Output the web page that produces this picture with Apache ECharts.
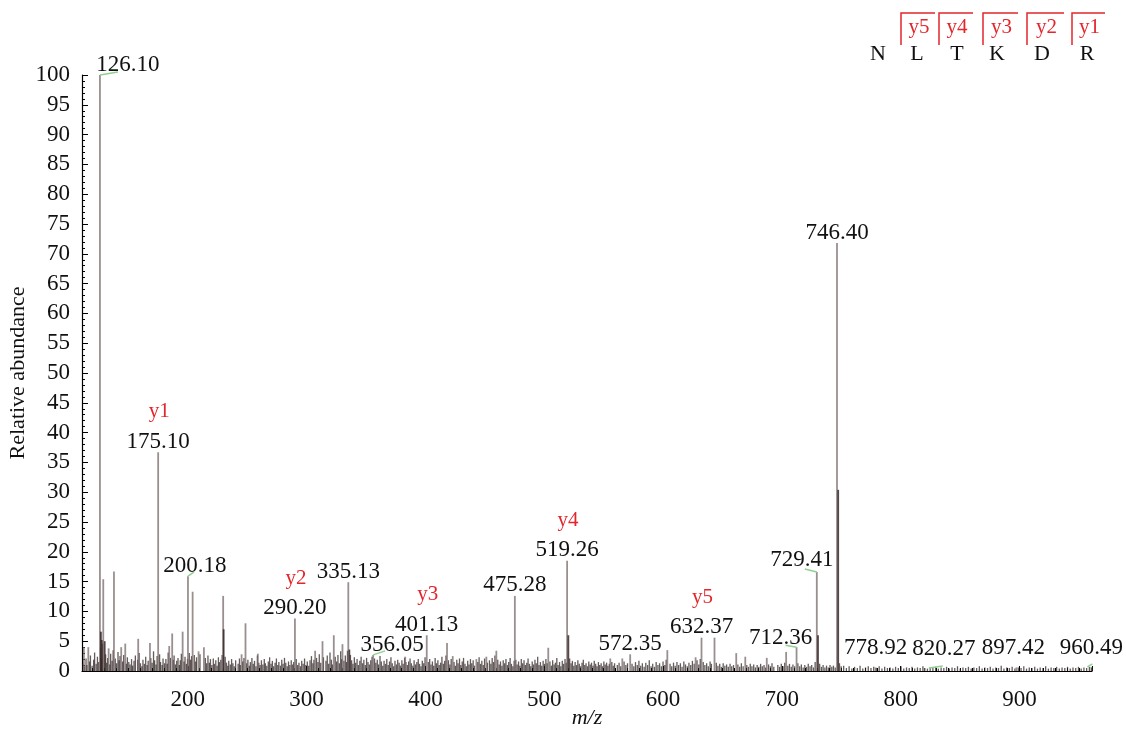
<!DOCTYPE html>
<html>
<head>
<meta charset="utf-8">
<script src="https://cdn.jsdelivr.net/npm/echarts@6/dist/echarts.min.js"></script>
<style>
  html, body { margin: 0; padding: 0; background: #fff; }
  #chart { width: 1126px; height: 732px; }
</style>
</head>
<body>
<div id="chart"></div>
<script>
// MS/MS spectrum of the peptide NLTKDR (relative abundance vs m/z)

// Annotated fragment peaks
const labeledMz = [126.10, 175.10, 200.18, 290.20, 335.13, 356.05, 401.13, 475.28, 519.26,
                   572.35, 632.37, 712.36, 729.41, 746.40, 778.92, 820.27, 897.42, 960.49];
const labeledAbundance = [100, 36.7, 15.9, 8.8, 14.9, 2.7, 6.0, 12.6, 18.5,
                          2.8, 5.6, 4.0, 16.6, 71.8, 0.6, 0.5, 0.6, 0.7];

// y-ion assignments shown in red above their peaks
const ionNames = ['y1', 'y2', 'y3', 'y4', 'y5'];
const ionMz = [175.10, 290.20, 401.13, 519.26, 632.37];

// Peptide sequence for the header
const sequence = ['N', 'L', 'T', 'K', 'D', 'R'];
const sequenceIons = ['y5', 'y4', 'y3', 'y2', 'y1'];

// Other visible, unlabelled peaks [m/z, abundance]
const otherPeaks = [
  [112.6, 4.0], [116.3, 4.0], [128.9, 15.4], [133.4, 3.8], [137.9, 16.7], [144.0, 4.0],
  [147.4, 4.6], [158.3, 5.4], [168.2, 4.7], [184.4, 4.2], [186.9, 6.3], [195.7, 6.6],
  [204.1, 13.3], [209.1, 3.3], [213.6, 4.0], [229.8, 12.6], [245.3, 2.8], [248.6, 8.0],
  [259.0, 2.9], [307.2, 3.4], [313.4, 5.0], [322.9, 6.0], [330.2, 4.5], [383.0, 2.4],
  [418.2, 4.7], [423.0, 2.5], [442.9, 2.0], [451.3, 2.4], [459.7, 3.4], [503.4, 3.9],
  [555.6, 2.1], [565.7, 2.1], [603.6, 3.5], [627.4, 2.3], [643.3, 5.6], [661.6, 3.0],
  [669.2, 2.4], [687.3, 2.2], [703.6, 3.2]
];

// Overlapping isotope peaks, drawn darker
const overlapPeaks = [
  [126.9, 6.6], [127.6, 5.2], [130.1, 5.0], [230.2, 7.0], [336.0, 3.6],
  [520.3, 6.0], [730.4, 6.0], [747.4, 30.4]
];

// Baseline noise peaks [m/z, abundance]
const noisePeaks = [
  [111.8,1.2],[113.1,0.8],[114.4,2.1],[115.2,1.0],[117.3,1.6],[118.1,2.6],[119.5,0.9],[120.8,1.9],
  [121.6,3.1],[122.9,1.2],[124.0,2.4],[125.1,1.5],[126.6,3.8],[127.4,2.2],[128.3,4.6],[130.9,2.8],
  [131.8,1.4],[132.6,2.2],[134.2,1.1],[135.1,2.9],[136.3,1.7],[137.2,3.5],[139.0,2.1],[140.1,1.3],
  [141.3,3.2],[142.2,1.8],[143.0,2.5],[145.2,1.6],[146.1,2.7],[148.3,1.2],[149.2,2.3],[150.4,1.5],
  [151.5,1.1],[152.7,2.0],[153.6,0.9],[154.8,1.7],[155.9,2.6],[157.8,1.9],[159.1,3.0],[160.2,1.3],
  [161.4,0.8],[162.3,1.9],[163.5,1.2],[164.6,2.4],[165.8,1.0],[166.7,1.7],[168.9,2.2],[170.0,1.4],
  [171.2,3.3],[172.1,1.8],[173.3,1.1],[174.2,2.5],[176.3,2.8],[177.1,1.5],[178.4,1.0],[179.2,2.1],
  [180.5,1.3],[181.6,2.0],[182.7,1.2],[183.5,3.1],[185.4,2.2],[187.6,1.9],[188.5,2.6],[189.6,1.1],
  [190.7,1.7],[191.8,2.2],[192.9,1.0],[193.7,1.8],[194.6,2.9],[196.8,1.6],[197.7,2.4],[198.9,1.2],
  [199.8,2.0],[201.3,3.0],[202.4,1.9],[203.2,2.5],[205.5,2.7],[206.7,1.6],[207.4,2.3],[210.3,2.8],
  [214.8,2.2],[215.9,1.3],[217.0,2.6],[218.2,1.4],[219.1,2.0],[220.3,1.0],[221.5,2.1],[222.4,1.2],
  [223.6,1.8],[224.7,0.9],[225.8,2.3],[226.6,1.5],[227.8,1.9],[228.9,2.7],[231.5,2.4],[232.6,1.4],
  [233.7,0.9],[234.5,1.7],[235.8,1.1],[236.9,2.0],[238.0,1.3],[239.1,0.8],[240.3,1.8],[242.4,1.2],
  [243.5,2.1],[244.3,1.0],[246.2,1.6],[247.3,2.2],[249.5,1.3],[250.6,1.9],[251.8,0.9],[252.7,1.5],
  [254.0,2.2],[255.1,1.2],[256.2,1.7],[257.4,0.8],[258.6,2.6],[259.8,1.4],[260.9,1.0],[262.0,1.8],
  [263.2,1.1],[264.4,2.0],[265.3,1.3],[266.5,0.9],[267.8,1.6],[268.9,2.3],[270.1,1.2],[271.2,1.7],
  [272.3,0.8],[273.5,1.4],[274.6,2.1],[275.8,1.0],[276.7,1.5],[278.0,0.9],[279.1,1.9],[280.2,1.2],
  [281.4,2.2],[282.5,1.4],[283.7,0.8],[284.8,1.6],[285.9,1.0],[287.1,1.8],[288.3,1.1],[289.2,1.5],
  [291.3,2.0],[292.5,1.0],[293.6,1.4],[294.8,0.8],[295.9,1.7],[297.1,1.2],[298.3,2.1],[299.4,1.0],
  [300.6,1.6],[301.8,0.9],[302.9,1.8],[304.1,2.5],[305.3,1.3],[306.2,1.9],[308.4,2.2],[309.6,1.5],
  [310.7,2.8],[311.9,1.4],[314.2,2.3],[316.3,1.7],[317.4,2.6],[318.6,1.2],[319.7,3.1],[320.9,1.9],
  [321.8,1.1],[324.1,2.4],[325.3,1.6],[326.4,2.7],[327.6,1.3],[328.7,3.3],[329.5,2.0],[331.4,1.7],
  [332.6,2.6],[333.7,1.5],[334.4,3.4],[336.9,2.7],[337.9,1.8],[339.0,1.2],[340.2,2.3],[341.3,1.4],
  [342.5,2.0],[343.6,1.0],[344.8,1.7],[345.9,2.4],[347.1,1.3],[348.2,1.9],[349.4,1.0],[350.5,2.2],
  [351.7,1.5],[352.8,1.1],[354.0,1.8],[355.1,2.4],[357.2,2.1],[358.3,1.4],[359.5,1.9],[360.6,1.1],
  [361.8,2.5],[362.9,1.6],[364.1,0.9],[365.2,1.7],[366.4,1.2],[367.5,2.0],[368.7,1.0],[369.8,1.6],
  [371.0,2.3],[372.1,1.3],[373.3,0.8],[374.4,1.7],[375.6,1.1],[376.7,1.9],[377.9,1.4],[379.0,0.9],
  [380.2,1.8],[381.3,1.2],[382.5,2.2],[383.6,1.5],[384.8,1.0],[385.9,1.6],[387.1,2.1],[388.2,1.3],
  [389.4,0.9],[390.5,1.8],[391.7,1.1],[392.8,1.5],[394.0,2.0],[395.1,1.2],[396.3,0.8],[397.4,1.7],
  [398.6,1.3],[399.7,2.3],[402.4,1.5],[403.6,2.0],[404.7,1.1],[405.9,1.6],[407.0,0.9],[408.2,2.2],
  [409.3,1.3],[410.5,1.8],[411.6,1.0],[412.8,1.4],[413.9,2.4],[415.1,1.2],[416.2,1.7],[417.3,2.6],
  [419.4,1.8],[420.6,1.1],[421.7,2.0],[424.1,1.5],[425.2,0.9],[426.4,1.9],[427.5,1.3],[428.7,2.1],
  [429.8,1.0],[431.0,1.6],[432.1,2.2],[433.3,1.2],[434.4,0.8],[435.6,1.7],[436.7,1.1],[437.9,2.0],
  [439.0,1.3],[440.2,1.8],[441.3,0.9],[444.1,1.5],[445.2,2.3],[446.4,1.2],[447.5,1.7],[448.7,1.0],
  [449.8,2.1],[452.2,1.4],[453.9,1.8],[455.1,1.2],[456.2,2.2],[457.4,1.5],[458.5,2.6],[460.9,1.9],
  [462.1,1.1],[463.2,1.6],[464.4,0.9],[465.5,1.8],[466.7,1.3],[467.8,2.0],[469.0,1.0],[470.1,1.5],
  [471.3,2.2],[472.4,1.2],[473.6,0.8],[474.7,1.7],[476.1,1.9],[477.2,1.1],[478.4,1.6],[479.5,0.9],
  [480.7,2.0],[481.8,1.3],[483.0,1.8],[484.1,1.0],[485.3,1.4],[486.4,2.1],[487.6,1.2],[488.7,0.8],
  [489.9,1.6],[491.0,1.1],[492.2,1.9],[493.3,1.3],[494.5,2.4],[495.6,1.0],[496.8,1.5],[497.9,0.9],
  [499.1,1.7],[500.2,1.2],[501.4,2.0],[502.5,1.3],[504.8,1.6],[506.0,0.9],[507.1,1.8],[508.3,1.1],
  [509.4,1.4],[510.6,2.2],[511.7,1.0],[512.9,1.5],[514.0,0.8],[515.2,1.7],[516.3,1.2],[517.5,2.0],
  [518.6,1.4],[521.4,2.1],[522.6,1.3],[523.7,1.7],[524.9,0.9],[526.0,1.5],[527.2,1.0],[528.3,1.8],
  [529.5,1.2],[530.6,0.8],[531.8,1.4],[532.9,1.9],[534.1,1.0],[535.2,1.3],[536.4,0.8],[537.5,1.6],
  [538.7,1.1],[539.8,1.4],[541.0,0.9],[542.1,1.7],[543.3,1.2],[544.4,0.8],[545.6,1.5],[546.7,1.0],
  [547.9,1.3],[549.0,0.8],[550.2,1.6],[551.3,1.1],[552.5,1.4],[553.6,0.9],[554.8,1.2],[556.9,1.5],
  [558.1,0.9],[559.2,1.3],[561.5,1.0],[563.0,1.4],[564.4,0.8],[567.2,1.6],[568.7,1.0],[570.1,1.3],
  [573.9,1.2],[575.4,0.8],[576.8,1.5],[578.3,1.0],[579.7,1.7],[581.2,0.9],[582.6,1.3],[584.1,0.7],
  [585.5,1.4],[587.0,1.0],[588.4,1.8],[589.9,0.8],[591.3,1.2],[592.8,0.7],[594.2,1.5],[595.7,1.0],
  [597.1,1.3],[598.6,0.8],[600.0,1.6],[601.5,1.0],[602.6,1.9],[605.9,1.2],[607.3,0.8],[608.8,1.4],
  [610.2,0.9],[611.7,1.5],[613.1,1.0],[614.6,1.3],[616.0,0.7],[617.5,1.6],[618.9,1.1],[620.4,0.8],
  [621.8,1.4],[623.3,1.0],[624.7,1.7],[626.2,1.2],[628.6,1.8],[630.1,1.1],[631.3,2.0],[633.8,1.5],
  [635.2,1.0],[636.7,1.3],[638.1,0.8],[639.6,1.6],[640.7,1.2],[644.8,1.4],[646.2,0.9],[647.7,1.2],
  [649.1,0.7],[650.6,1.3],[652.0,0.9],[653.5,1.1],[654.9,0.7],[656.4,1.2],[657.8,0.8],[659.3,1.0],
  [663.0,1.1],[664.5,0.7],[665.9,1.3],[667.4,0.8],[670.5,1.0],[671.9,0.7],[673.4,1.2],[674.8,0.8],
  [676.3,1.1],[677.7,0.6],[679.2,1.0],[680.6,0.7],[682.1,1.2],[683.5,0.8],[685.0,1.0],[686.4,0.6],
  [688.8,1.1],[690.3,0.8],[691.7,1.3],[693.2,0.7],[696.6,1.0],[698.1,0.7],[699.5,1.2],[701.0,0.8],
  [702.4,1.4],[705.0,0.9],[706.4,1.2],[707.9,0.7],[709.3,1.1],[710.8,0.8],[713.5,1.3],[715.0,0.8],
  [716.4,1.1],[717.9,0.6],[719.3,1.0],[720.8,0.7],[722.2,1.2],[723.7,0.8],[725.1,1.0],[726.6,0.6],
  [728.0,1.5],[731.8,1.2],[733.3,0.7],[734.7,1.0],[736.2,0.6],[737.6,0.9],[739.1,0.6],[740.5,1.0],
  [742.0,0.7],[743.4,0.9],[744.9,0.6],[748.5,1.3],[749.9,0.8],[752.0,0.9],[754.3,0.5],[756.6,0.8],
  [758.9,0.4],[761.2,0.7],[763.5,0.5],[765.8,0.9],[768.1,0.4],[770.4,0.6],[772.7,0.8],[775.0,0.5],
  [777.3,0.7],[779.6,0.5],[781.9,0.8],[784.2,0.4],[786.5,0.7],[788.8,0.5],[791.1,0.6],[793.4,0.4],
  [795.7,0.7],[798.0,0.5],[800.3,0.8],[802.6,0.4],[804.9,0.6],[807.2,0.5],[809.5,0.7],[811.8,0.4],
  [814.1,0.6],[816.4,0.5],[818.7,0.8],[822.5,0.4],[824.8,0.6],[827.1,0.5],[829.4,0.7],[831.7,0.4],
  [834.0,0.6],[836.3,0.5],[838.6,0.7],[840.9,0.4],[843.2,0.6],[845.5,0.5],[847.8,0.8],[850.1,0.4],
  [852.4,0.6],[854.7,0.5],[857.0,0.7],[859.3,0.4],[861.6,0.6],[863.9,0.5],[866.2,0.8],[868.5,0.4],
  [870.8,0.6],[873.1,0.5],[875.4,0.7],[877.7,0.4],[880.0,0.6],[882.3,0.5],[884.6,0.9],[886.9,0.4],
  [889.2,0.6],[891.5,0.5],[893.8,0.7],[896.1,0.4],[899.0,0.6],[901.3,0.5],[903.6,0.8],[905.9,0.4],
  [908.2,0.6],[910.5,0.5],[912.8,0.7],[915.1,0.4],[917.4,0.6],[919.7,0.5],[922.0,0.8],[924.3,0.4],
  [926.6,0.6],[928.9,0.5],[931.2,0.7],[933.5,0.4],[935.8,0.6],[938.1,0.5],[940.4,0.7],[942.7,0.4],
  [945.0,0.6],[947.3,0.5],[949.6,0.7],[951.9,0.4],[954.2,0.6],[956.5,0.5],[958.8,0.7]
];

// Label placement tweaks in pixels [dx, dy] for crowded peaks
const labelShift = {
  '126.10': [28, 0], '200.18': [7, 0], '356.05': [19, 1], '712.36': [-16, 1],
  '729.41': [-15, -2], '778.92': [0, -9], '820.27': [19, -9], '897.42': [-3, -9], '960.49': [0, -8]
};
// Short green leader strokes from label to peak, pixel offsets from the peak top
const leaderLines = {
  '126.10': [[0, 0], [18, -3]], '200.18': [[0, 0], [6, -4]], '356.05': [[0, 0], [12, -4]],
  '712.36': [[0, 0], [-11, -2]], '729.41': [[0, 0], [-12, -3]], '820.27': [[4, 0], [18, -2]],
  '960.49': [[-4, 0], [1, -3]]
};

const SERIF = '"Liberation Serif", "Times New Roman", serif';
const textColor = '#111';
const ionColor = '#e3262b';

function stickSeries(name, data, color, width, z) {
  return {
    type: 'custom', name, data, z, silent: true, animation: false,
    encode: { x: 0, y: 1 },
    renderItem(params, api) {
      const top = api.coord([api.value(0), api.value(1)]);
      const base = api.coord([api.value(0), 0]);
      return {
        type: 'line',
        shape: { x1: top[0], y1: top[1], x2: base[0], y2: base[1] },
        style: { stroke: color, lineWidth: width }
      };
    }
  };
}

const labeledData = labeledMz.map((m, i) => [m, labeledAbundance[i]]);

const labelSeries = {
  type: 'custom', name: 'labels', data: labeledData, z: 10, silent: true, animation: false,
  encode: { x: 0, y: 1 },
  renderItem(params, api) {
    const mz = api.value(0);
    const key = mz.toFixed(2);
    const top = api.coord([mz, api.value(1)]);
    const sh = labelShift[key] || [0, 0];
    const lx = top[0] + sh[0];
    const ly = top[1] + 1 + sh[1];
    const children = [{
      type: 'text', x: lx, y: ly,
      style: { text: key, font: '23px ' + SERIF, fill: textColor, align: 'center', verticalAlign: 'bottom' }
    }];
    const ionIdx = ionMz.findIndex(v => v.toFixed(2) === key);
    if (ionIdx >= 0) {
      children.push({
        type: 'text', x: lx + 1, y: ly - 31,
        style: { text: ionNames[ionIdx], font: '21px ' + SERIF, fill: ionColor, align: 'center', verticalAlign: 'bottom' }
      });
    }
    const ll = leaderLines[key];
    if (ll) {
      children.push({
        type: 'polyline',
        shape: { points: ll.map(p => [top[0] + p[0], top[1] + p[1]]) },
        style: { stroke: '#8fd28f', lineWidth: 1.5, fill: null }
      });
    }
    return { type: 'group', children };
  }
};

// Sequence header: residues with y-ion brackets
const residueX = [878, 917, 957, 997, 1042, 1087];
const bracketX = [[901, 935], [939, 973], [983, 1018], [1027, 1064], [1072, 1105]];
const headerGraphics = [];
sequence.forEach((aa, i) => {
  headerGraphics.push({
    type: 'text', x: residueX[i], y: 54,
    style: { text: aa, font: '22px ' + SERIF, fill: textColor, align: 'center', verticalAlign: 'middle' }
  });
});
sequenceIons.forEach((ion, i) => {
  const [x0, x1] = bracketX[i];
  headerGraphics.push({
    type: 'polyline',
    shape: { points: [[x0, 45], [x0, 13], [x1, 13]] },
    style: { stroke: ionColor, lineWidth: 1.5, fill: null }
  });
  headerGraphics.push({
    type: 'text', x: (x0 + x1) / 2 + 1, y: 27,
    style: { text: ion, font: '21px ' + SERIF, fill: ionColor, align: 'center', verticalAlign: 'middle' }
  });
});

const chart = echarts.init(document.getElementById('chart'), null, { renderer: 'canvas' });
chart.setOption({
  backgroundColor: '#fff',
  animation: false,
  grid: { left: 82, right: 34, top: 75, bottom: 61, containLabel: false, outerBoundsMode: 'none' },
  xAxis: {
    type: 'value', min: 111, max: 961, splitNumber: 8,
    name: 'm/z', nameLocation: 'middle', nameGap: 36, nameMoveOverlap: false,
    nameTextStyle: { fontFamily: SERIF, fontSize: 22, fontStyle: 'italic', color: textColor },
    axisLine: { show: true, onZero: false, lineStyle: { color: '#000', width: 1.2 } },
    axisTick: { show: true, inside: true, length: 5, lineStyle: { color: '#000' } },
    minorTick: { show: true, splitNumber: 10, length: 3, lineStyle: { color: '#000' } },
    axisLabel: { fontFamily: SERIF, fontSize: 23, color: textColor, margin: 17, showMinLabel: false, showMaxLabel: false },
    splitLine: { show: false }
  },
  yAxis: {
    type: 'value', min: 0, max: 100, interval: 5,
    name: 'Relative abundance', nameLocation: 'middle', nameGap: 53, nameRotate: 90, nameMoveOverlap: false,
    nameTextStyle: { fontFamily: SERIF, fontSize: 22, color: textColor },
    axisLine: { show: true, lineStyle: { color: '#000', width: 1.2 } },
    axisTick: { show: true, inside: true, length: 6, lineStyle: { color: '#000' } },
    minorTick: { show: true, splitNumber: 5, length: 3, lineStyle: { color: '#000' } },
    axisLabel: { fontFamily: SERIF, fontSize: 23, color: textColor, margin: 12 },
    splitLine: { show: false }
  },
  graphic: headerGraphics,
  series: [
    stickSeries('noise', noisePeaks, 'rgba(40,28,28,0.72)', 1.3, 2),
    stickSeries('peaks', otherPeaks, 'rgba(120,105,105,0.75)', 1.8, 3),
    stickSeries('annotated', labeledData, 'rgba(120,105,105,0.75)', 1.8, 3),
    stickSeries('overlap', overlapPeaks, 'rgba(55,40,40,0.85)', 1.8, 4),
    labelSeries
  ]
});
</script>
</body>
</html>
